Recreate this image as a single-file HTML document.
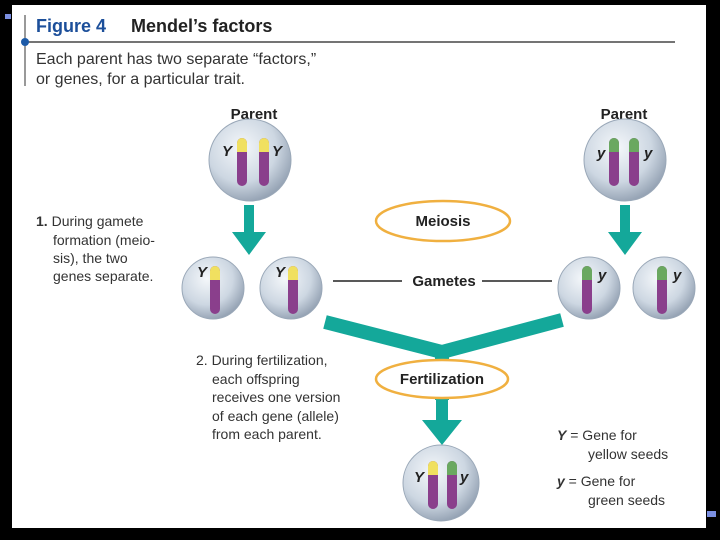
<!DOCTYPE html>
<html><head><style>
body{margin:0;background:#000;}
svg{display:block}
text{font-family:"Liberation Sans",sans-serif;}
</style></head><body>
<svg width="720" height="540" viewBox="0 0 720 540">
<defs>
<radialGradient id="cell" cx="0.4" cy="0.35" r="0.7">
<stop offset="0" stop-color="#f4f7fa"/><stop offset="0.6" stop-color="#cdd7e2"/><stop offset="1" stop-color="#8e9cae"/>
</radialGradient>
<g id="chY"><rect x="-5" y="-24" width="10" height="48" rx="5" fill="#8a3f8c"/><path d="M-5 -19 a5 5 0 0 1 10 0 v9 h-10z" fill="#f0e060"/></g>
<g id="chy"><rect x="-5" y="-24" width="10" height="48" rx="5" fill="#8a3f8c"/><path d="M-5 -19 a5 5 0 0 1 10 0 v9 h-10z" fill="#6aa860"/></g>
</defs>
<rect x="12" y="5" width="694" height="523" fill="#fff"/>
<rect x="5" y="14" width="6" height="5" fill="#7a8ee0"/>
<rect x="707" y="511" width="9" height="6" fill="#7a8ee0"/>
<line x1="25" y1="15" x2="25" y2="86" stroke="#333" stroke-width="1"/>
<line x1="25" y1="42" x2="675" y2="42" stroke="#222" stroke-width="1.2"/>
<circle cx="25" cy="42" r="4" fill="#1c5aa8"/>
<text x="36" y="32" font-size="18" font-weight="bold" fill="#1c4f9a">Figure 4</text>
<text x="131" y="32" font-size="18" font-weight="bold" fill="#222">Mendel’s factors</text>
<text x="36" y="64" font-size="16" fill="#333">Each parent has two separate “factors,”</text>
<text x="36" y="84" font-size="16" fill="#333">or genes, for a particular trait.</text>
<g font-size="15" font-weight="bold" fill="#222" text-anchor="middle">
<text x="254" y="119">Parent</text><text x="624" y="119">Parent</text>
</g>
<!-- arrows -->
<g fill="#14a89a">
<polygon points="244,205 254,205 254,232 266,232 249,255 232,232 244,232"/>
<polygon points="620,205 630,205 630,232 642,232 625,255 608,232 620,232"/>
<polygon points="436,395 448,395 448,420 462,420 442,445 422,420 436,420"/>
<polyline points="325,322 442,352 562,320" fill="none" stroke="#14a89a" stroke-width="14"/>
<rect x="435" y="350" width="14" height="50"/>
</g>
<!-- cells -->
<circle cx="250" cy="160" r="41" fill="url(#cell)" stroke="#9aa8b8"/>
<use href="#chY" x="242" y="162"/><use href="#chY" x="264" y="162"/>
<circle cx="625" cy="160" r="41" fill="url(#cell)" stroke="#9aa8b8"/>
<use href="#chy" x="614" y="162"/><use href="#chy" x="634" y="162"/>
<circle cx="213" cy="288" r="31" fill="url(#cell)" stroke="#9aa8b8"/>
<use href="#chY" x="215" y="290"/>
<circle cx="291" cy="288" r="31" fill="url(#cell)" stroke="#9aa8b8"/>
<use href="#chY" x="293" y="290"/>
<circle cx="589" cy="288" r="31" fill="url(#cell)" stroke="#9aa8b8"/>
<use href="#chy" x="587" y="290"/>
<circle cx="664" cy="288" r="31" fill="url(#cell)" stroke="#9aa8b8"/>
<use href="#chy" x="662" y="290"/>
<circle cx="441" cy="483" r="38" fill="url(#cell)" stroke="#9aa8b8"/>
<use href="#chY" x="433" y="485"/><use href="#chy" x="452" y="485"/>
<g font-size="15" font-weight="bold" font-style="italic" fill="#222">
<text x="222" y="156">Y</text><text x="272" y="156">Y</text>
<text x="597" y="158">y</text><text x="644" y="158">y</text>
<text x="197" y="277">Y</text><text x="275" y="277">Y</text>
<text x="598" y="280">y</text><text x="673" y="280">y</text>
<text x="414" y="482">Y</text><text x="460" y="482">y</text>
</g>
<ellipse cx="443" cy="221" rx="67" ry="20" fill="#fff" stroke="#f0b040" stroke-width="2.5"/>
<ellipse cx="442" cy="379" rx="66" ry="19" fill="#fff" stroke="#f0b040" stroke-width="2.5"/>
<g font-size="15" font-weight="bold" fill="#222" text-anchor="middle">
<text x="443" y="226">Meiosis</text>
<text x="442" y="384">Fertilization</text>
<text x="444" y="286">Gametes</text>
</g>
<line x1="333" y1="281" x2="402" y2="281" stroke="#222" stroke-width="1.5"/>
<line x1="482" y1="281" x2="552" y2="281" stroke="#222" stroke-width="1.5"/>
<g font-size="14" fill="#333">
<text x="36" y="226"><tspan font-weight="bold">1.</tspan> During gamete</text>
<text x="53" y="245">formation (meio-</text>
<text x="53" y="263">sis), the two</text>
<text x="53" y="281">genes separate.</text>
<text x="196" y="365">2. During fertilization,</text>
<text x="212" y="384">each offspring</text>
<text x="212" y="402">receives one version</text>
<text x="212" y="421">of each gene (allele)</text>
<text x="212" y="439">from each parent.</text>
<text x="557" y="440"><tspan font-weight="bold" font-style="italic">Y</tspan> = Gene for</text>
<text x="588" y="459">yellow seeds</text>
<text x="557" y="486"><tspan font-weight="bold" font-style="italic">y</tspan> = Gene for</text>
<text x="588" y="505">green seeds</text>
</g>
</svg>
</body></html>
